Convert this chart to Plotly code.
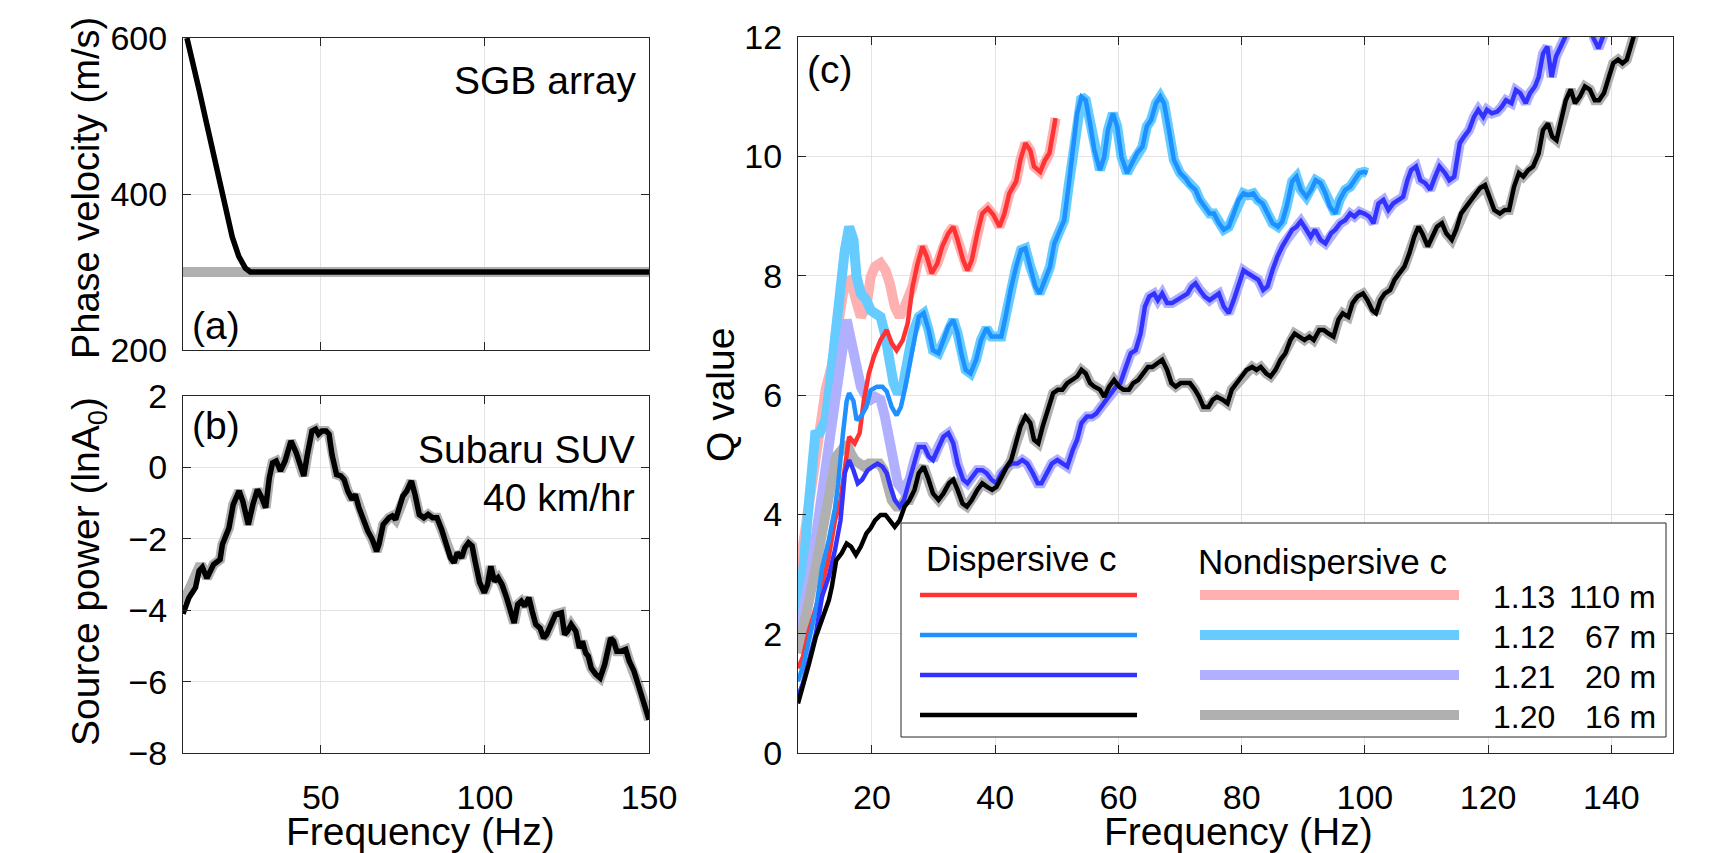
import plotly.graph_objects as go

W, H = 1712, 853
FONT = "Liberation Sans, Arial, Helvetica, sans-serif"

# ---------------- Panel (a): phase velocity ----------------
VEL_DISP_F = [9.2, 11, 13, 15, 17, 19, 21, 23, 25, 27, 28.5, 150]
VEL_DISP_C = [600, 571, 532, 494, 455, 416, 380, 345, 320, 305, 300, 300]
VEL_NOND_F = [8, 150]
VEL_NOND_C = [300, 300]

# ---------------- Panel (b): source power ----------------
SRC_F = [8, 9.8, 11.8, 12.9, 13.9, 15.3, 17.3, 19.3, 20, 22, 23.3, 25.1, 26.2, 27.9, 29.3, 30.7, 32, 33.2,
         34.3, 35.3, 36.4, 37.7, 39.1, 40.9, 42.5, 43.9, 44.8, 45.9, 47.3, 48.4, 49.3, 50.3, 51.6, 52.5,
         53.4, 54.8, 56.1, 57.1, 58.2, 59.5, 60.5, 61.6, 62.9, 64.3, 65.7, 67, 67.7, 69, 70.8, 71.8, 72.8,
         73.9, 75, 76.2, 77.6, 78.7, 80, 81.4, 82.7, 84.1, 85.4, 86.8, 88.1, 89.5, 90.6, 91.6, 92.9, 93.9,
         95, 96.1, 97, 98.4, 99.8, 100.8, 101.8, 102.9, 104, 105.2, 106.6, 108, 108.9, 110, 111.1, 112.1,
         113.4, 114.4, 115.5, 116.8, 117.9, 118.8, 120.2, 121.5, 123.3, 124.3, 125.2, 126.3, 127.7, 128.8,
         129.7, 130.7, 131.5, 132.4, 133.8, 135.1, 136.5, 138.3, 139.2, 140.2, 141.5, 142.9, 144, 145.4,
         146.7, 148.1, 149, 150]
SRC_DISP = [-4.1, -3.65, -3.37, -2.9, -2.8, -3.1, -2.72, -2.58, -2.16, -1.7, -1.04, -0.66, -0.94, -1.6,
            -1.04, -0.62, -0.85, -1.13, -0.29, 0.13, 0.18, -0.1, 0.18, 0.74, 0.41, -0.01, -0.24, 0.36, 1.02,
            1.07, 0.93, 1.02, 1.02, 0.93, 0.36, -0.2, -0.24, -0.34, -0.66, -0.9, -0.76, -1.13, -1.5, -1.78,
            -2.02, -2.35, -2.16, -1.6, -1.41, -1.36, -1.46, -1.13, -0.8, -0.66, -0.38, -0.76, -1.32, -1.41,
            -1.32, -1.41, -1.41, -1.74, -2.07, -2.53, -2.67, -2.39, -2.53, -2.25, -2.11, -2.2, -2.63, -3.23,
            -3.51, -3.28, -2.77, -3.19, -3.09, -3.28, -3.65, -4.17, -4.36, -3.84, -3.75, -3.89, -3.65, -4.03,
            -4.4, -4.5, -4.78, -4.68, -4.4, -4.12, -4.07, -4.68, -4.59, -4.4, -4.59, -5.06, -4.87, -5.2, -5.29,
            -5.62, -5.8, -5.9, -5.52, -4.78, -4.87, -5.15, -5.15, -5.1, -5.43, -5.7, -6.08, -6.46, -6.74, -7.07]
SRC_NOND_LOW_F = [8, 9.5, 11, 12.9]
SRC_NOND_LOW = [-3.8, -3.45, -3.1, -2.8]

# ---------------- Panel (c): Q values ----------------
RED_F = [8, 8.8, 9.8, 10.9, 11.9, 13, 14, 14.9, 15.6, 16.3, 17.2, 18, 18.7, 19.5, 20.3, 21.4, 22.4, 23.2,
         24, 25, 25.8, 26.6, 27.4, 28.2, 28.9, 29.7, 30.6, 31.4, 32.4, 33.2, 33.9, 34.8, 35.5, 36.2, 37.1,
         37.9, 38.8, 39.7, 40.7, 41.5, 42.3, 43.4, 44.1, 44.9, 45.7, 46.3, 47.3, 48.1, 48.8, 49.4, 49.8]
RED_Q = [1.42, 1.61, 2.06, 2.45, 2.79, 3.29, 3.9, 4.24, 4.8, 5.3, 5.19, 5.36, 5.92, 6.36, 6.64, 6.92, 7.09,
         6.87, 6.75, 6.92, 7.2, 7.82, 8.2, 8.49, 8.32, 8.04, 8.2, 8.49, 8.71, 8.82, 8.6, 8.26, 8.09, 8.26,
         8.71, 9.04, 9.13, 9.02, 8.82, 9.04, 9.38, 9.58, 9.94, 10.22, 10.1, 9.83, 9.74, 9.94, 10.05, 10.39,
         10.64]
PINK_LOW_F = [8, 8.8, 9.5, 10.5, 11.5, 12.5, 13.5, 14.5, 15.3, 16, 16.6, 17.4, 18.2, 19.1, 19.8, 20.5,
              21.4, 22.2, 22.9, 23.7, 24.5, 25.3]
PINK_LOW_Q = [2.9, 3.5, 4.0, 4.8, 5.6, 6.1, 6.5, 7.2, 7.7, 7.9, 7.93, 7.59, 7.31, 7.48, 7.98, 8.15, 8.21,
              8.09, 7.87, 7.48, 7.31, 7.48]

DODGER_F = [8, 8.8, 9.8, 10.9, 11.9, 13, 14, 14.5, 15.3, 15.9, 16.3, 17, 17.5, 18.2, 19.1, 19.8, 20.8,
            21.7, 22.4, 23.2, 24, 24.7, 25.3, 26.1, 26.9, 27.6, 28.4, 29.2, 29.9, 30.8, 31.6, 32.4, 33.2,
            33.9, 34.5, 35.2, 36, 36.9, 37.7, 38.6, 39.4, 40.2, 41, 41.8, 42.5, 43.4, 44.2, 44.9, 45.7, 46.5,
            47.2, 48.1, 48.9, 49.6, 50.5, 51.2, 51.9, 52.6, 53.3, 54, 54.7, 55.4, 56.1, 57, 57.7, 58.3, 59.1,
            59.8, 60.5, 61.4, 62.2, 63, 63.9, 64.6, 65.3, 66.1, 66.8, 67.4, 68.2, 69, 70, 70.9, 71.6, 72.5,
            73.2, 74, 74.8, 75.5, 76.3, 77.1, 77.9, 78.7, 79.5, 80.3, 81, 81.9, 82.6, 83.4, 84.2, 85, 85.9,
            86.6, 87.3, 88.2, 88.9, 89.6, 90.5, 91.3, 92, 92.8, 93.6, 94.3, 95.2, 95.9, 96.8, 97.6, 98.3,
            99.1, 99.9, 100.4]
DODGER_Q = [1.2, 1.45, 1.9, 2.4, 3.1, 3.57, 4.1, 4.5, 5.36, 5.9, 6.03, 5.9, 5.58, 5.64, 5.8, 6.08, 6.14,
            6.14, 6.06, 5.8, 5.66, 5.8, 6.08, 6.53, 6.98, 7.31, 7.37, 7.09, 6.75, 6.7, 6.92, 7.15, 7.26, 7.03,
            6.7, 6.42, 6.36, 6.59, 6.92, 7.12, 6.98, 6.98, 6.98, 7.37, 7.76, 8.15, 8.43, 8.46, 8.15, 7.82,
            7.7, 7.93, 8.15, 8.54, 8.77, 8.93, 9.49, 10.05, 10.72, 11.0, 10.94, 10.55, 10.1, 9.77, 9.99,
            10.44, 10.72, 10.5, 9.99, 9.72, 9.88, 10.05, 10.16, 10.5, 10.61, 10.89, 11.0, 10.89, 10.44, 9.94,
            9.72, 9.63, 9.52, 9.44, 9.27, 9.16, 9.04, 9.04, 8.88, 8.77, 8.82, 9.04, 9.27, 9.38, 9.35, 9.38,
            9.27, 9.21, 9.04, 8.88, 8.82, 8.91, 9.16, 9.58, 9.66, 9.44, 9.32, 9.44, 9.6, 9.55, 9.38, 9.16,
            9.04, 9.27, 9.44, 9.49, 9.6, 9.72, 9.74, 9.72]
SKY_LOW_F = [8, 8.8, 9.6, 10.3, 10.8, 11.5, 12.5, 13.2, 14, 14.9, 15.6, 16.3, 17, 17.5, 18.2, 19.1, 19.8,
             20.5, 21.4, 22.1, 22.7, 23.5, 24.2, 25, 25.8, 26.6]
SKY_LOW_Q = [2.34, 3.0, 4.0, 5.0, 5.34, 5.36, 5.6, 6.2, 7.03, 7.93, 8.43, 8.82, 8.6, 7.98, 7.7, 7.59, 7.42,
             7.37, 7.31, 7.03, 6.59, 6.2, 6.03, 6.14, 6.59, 7.03]

BLUE_F = [8, 8.8, 9.8, 10.9, 11.9, 13, 14, 14.9, 15.6, 16.3, 17, 17.7, 18.4, 19.3, 20.1, 20.9, 21.7, 22.4,
          23, 23.7, 24.5, 25.2, 26.1, 26.9, 27.6, 28.5, 29.2, 29.9, 30.8, 31.6, 32.4, 33.2, 33.9, 34.8, 35.5,
          36.2, 37.1, 37.9, 38.6, 39.4, 40.2, 41, 41.9, 42.7, 43.6, 44.4, 45.2, 46.1, 46.9, 47.5, 48.4, 49.2,
          50.1, 50.9, 51.7, 52.6, 53.3, 54, 54.9, 55.7, 56.4, 57.2, 58, 58.8, 59.6, 60.3, 61.2, 62, 62.8, 63.6,
          64.3, 65, 65.8, 66.4, 67.1, 67.9, 68.7, 69.5, 70.4, 71.2, 71.9, 72.5, 73.2, 74, 74.8, 75.5, 76.3,
          77.1, 77.9, 78.7, 79.5, 80.3, 81, 81.9, 82.7, 83.5, 84.2, 85, 85.8, 86.6, 87.3, 88.2, 88.9, 89.6,
          90.5, 91.2, 91.9, 92.8, 93.6, 94.5, 95.2, 96, 96.8, 97.6, 98.3, 99.1, 99.9, 100.7, 101.4, 102.2,
          103, 103.8, 104.6, 105.4, 106.2, 106.9, 107.5, 108.3, 109, 109.8, 110.6, 111.4, 112.1, 113, 113.7,
          114.5, 115.4, 116.1, 116.9, 117.7, 118.4, 119.2, 119.8, 120.6, 121.5, 122.2, 122.9, 123.8, 124.5,
          125.2, 126.1, 126.8, 127.6, 128.2, 128.9, 129.6, 130.3, 131, 131.8, 132.5, 133.3, 134.5, 136,
          137.1, 137.9, 138.6, 139.5, 140.5]
BLUE_Q = [0.94, 1.17, 1.56, 2.0, 2.62, 2.96, 3.4, 3.9, 4.69, 4.91, 4.74, 4.52, 4.58, 4.74, 4.8, 4.85, 4.8,
          4.69, 4.46, 4.24, 4.13, 4.24, 4.58, 4.91, 5.13, 5.13, 4.97, 4.91, 5.13, 5.3, 5.36, 5.19, 4.85, 4.58,
          4.52, 4.63, 4.74, 4.74, 4.69, 4.58, 4.52, 4.69, 4.8, 4.85, 4.85, 4.91, 4.85, 4.69, 4.52, 4.52, 4.69,
          4.85, 4.91, 4.85, 4.8, 5.08, 5.25, 5.53, 5.64, 5.64, 5.69, 5.8, 5.92, 6.03, 6.14, 6.2, 6.47, 6.7,
          6.75, 7.03, 7.48, 7.65, 7.7, 7.59, 7.7, 7.54, 7.54, 7.59, 7.65, 7.7, 7.82, 7.87, 7.76, 7.65, 7.59,
          7.65, 7.7, 7.48, 7.37, 7.59, 7.87, 8.09, 8.04, 7.98, 7.93, 7.76, 7.82, 8.09, 8.32, 8.49, 8.6, 8.77,
          8.82, 8.91, 8.77, 8.65, 8.77, 8.6, 8.54, 8.71, 8.77, 8.88, 8.93, 9.04, 8.99, 9.07, 9.04, 8.99, 8.88,
          9.21, 9.27, 9.1, 9.21, 9.27, 9.32, 9.6, 9.77, 9.83, 9.6, 9.55, 9.44, 9.66, 9.83, 9.72, 9.6, 9.66,
          10.22, 10.33, 10.44, 10.66, 10.78, 10.66, 10.78, 10.72, 10.75, 10.83, 10.94, 10.89, 11.11, 11.06,
          10.89, 11.06, 11.17, 11.33, 11.72, 11.84, 11.33, 11.67, 11.84, 12.0, 12.4, 12.6, 12.3, 11.98, 11.81,
          12.0, 12.4, 12.6]
LAV_LOW_F = [8, 9, 10, 11, 12, 13, 14, 15, 15.9, 16.6, 17.4, 18.2, 19.1, 19.8, 20.5, 21.4, 22.1, 22.7,
             23.5, 24.2, 25, 25.8]
LAV_LOW_Q = [1.89, 2.4, 3.0, 3.7, 4.4, 5.1, 5.9, 6.6, 7.26, 6.92, 6.47, 6.14, 5.97, 5.92, 5.97, 5.92, 5.64,
             5.25, 4.8, 4.52, 4.41, 4.58]

BLACK_F = [8, 8.8, 9.8, 10.9, 11.9, 13, 13.5, 14.2, 15.1, 15.9, 16.6, 17.4, 18.2, 19.1, 19.8, 20.5, 21.4,
           22.2, 22.9, 23.7, 24.5, 25.3, 26.1, 26.9, 27.6, 28.4, 29.2, 29.9, 30.8, 31.6, 32.5, 33.2, 33.9,
           34.7, 35.4, 36.2, 37.1, 37.9, 38.7, 39.5, 40.2, 41, 41.9, 42.6, 43.4, 44.1, 44.9, 45.7, 46.3, 47,
           47.7, 48.6, 49.4, 50.2, 50.9, 51.7, 52.6, 53.3, 54, 54.7, 55.4, 56.1, 57, 57.7, 58.5, 59.3, 60.1,
           60.8, 61.7, 62.4, 63.2, 64.1, 64.8, 65.5, 66.4, 67.1, 67.9, 68.6, 69.3, 70.1, 70.8, 71.6, 72.4,
           73.1, 73.8, 74.6, 75.3, 76, 76.9, 77.7, 78.4, 79.3, 80, 80.8, 81.7, 82.4, 83.1, 84, 84.7, 85.5,
           86.3, 87.1, 87.9, 88.6, 89.4, 90.2, 91, 91.7, 92.6, 93.3, 94.1, 94.9, 95.7, 96.4, 97.3, 98, 98.8,
           99.7, 100.4, 101.2, 101.8, 102.5, 103.2, 104.1, 104.8, 105.5, 106.4, 107.2, 108, 108.7, 109.3,
           110.2, 110.9, 111.7, 112.5, 113.2, 114.1, 114.8, 115.6, 116.5, 117.2, 118, 118.7, 119.5, 120.2,
           121, 121.9, 122.7, 123.4, 124.2, 125, 125.7, 126.5, 127.3, 128.2, 128.9, 129.7, 130.4, 131.1,
           131.8, 132.6, 133.4, 134.1, 134.9, 135.7, 136.5, 137.3, 138, 138.8, 139.6, 140.3, 141.1, 141.8,
           142.5, 143, 143.6, 144.3]
BLACK_Q = [0.83, 1.11, 1.5, 1.95, 2.23, 2.56, 2.79, 3.23, 3.35, 3.51, 3.46, 3.32, 3.46, 3.68, 3.77, 3.9,
           3.99, 3.99, 3.9, 3.79, 3.9, 4.13, 4.24, 4.41, 4.69, 4.8, 4.58, 4.35, 4.24, 4.35, 4.52, 4.58, 4.41,
           4.18, 4.13, 4.24, 4.41, 4.52, 4.46, 4.41, 4.46, 4.63, 4.8, 4.91, 5.19, 5.47, 5.64, 5.53, 5.25, 5.19,
           5.47, 5.8, 6.03, 6.09, 6.09, 6.2, 6.25, 6.31, 6.42, 6.36, 6.2, 6.14, 6.09, 5.97, 6.14, 6.25, 6.14,
           6.09, 6.09, 6.2, 6.25, 6.36, 6.47, 6.47, 6.53, 6.59, 6.42, 6.2, 6.14, 6.2, 6.2, 6.2, 6.09, 5.97,
           5.8, 5.8, 5.92, 5.97, 5.92, 5.86, 6.09, 6.2, 6.31, 6.42, 6.47, 6.42, 6.47, 6.36, 6.31, 6.42, 6.59,
           6.7, 6.92, 7.03, 6.98, 6.92, 6.98, 6.92, 7.09, 7.09, 7.03, 6.98, 7.26, 7.37, 7.31, 7.54, 7.65, 7.7,
           7.59, 7.42, 7.37, 7.59, 7.7, 7.76, 7.93, 8.04, 8.15, 8.37, 8.65, 8.82, 8.71, 8.49, 8.65, 8.82, 8.88,
           8.71, 8.6, 8.77, 9.04, 9.16, 9.27, 9.38, 9.47, 9.52, 9.32, 9.1, 9.04, 9.1, 9.1, 9.49, 9.72, 9.66,
           9.77, 9.83, 10.05, 10.44, 10.55, 10.33, 10.27, 10.55, 10.94, 11.12, 10.89, 11.0, 11.17, 11.12,
           10.94, 10.94, 11.06, 11.33, 11.56, 11.62, 11.56, 11.62, 11.78, 12.0, 12.4]
GRAY_LOW_F = [8, 8.8, 9.8, 10.9, 11.9, 13, 13.5, 14.2, 15.1, 15.9, 16.6, 17.2, 18, 18.7, 19.5, 20.3, 21.2,
              21.9, 22.6, 23.2, 24, 24.7, 25.3]
GRAY_LOW_Q = [1.67, 2.0, 2.56, 3.12, 3.68, 4.07, 4.58, 4.97, 5.08, 5.19, 5.02, 4.91, 4.85, 4.8, 4.85, 4.83,
              4.85, 4.74, 4.52, 4.24, 4.13, 4.13, 4.24]

LEGEND_VALUES = ["1.13", "1.12", "1.21", "1.20"]
LEGEND_DIST = ["110 m", "67 m", "20 m", "16 m"]
DISP_COLORS = ["#ff3333", "#1e90ff", "#3333ff", "#000000"]
NOND_COLORS = ["#ffb0b0", "#66ccff", "#b0b0ff", "#b0b0b0"]


def join(low_f, low_q, f, q, f0):
    idx = next(i for i, v in enumerate(f) if v >= f0)
    return list(low_f) + list(f[idx:]), list(low_q) + list(q[idx:])


pink_f, pink_q = join(PINK_LOW_F, PINK_LOW_Q, RED_F, RED_Q, 26.6)
sky_f, sky_q = join(SKY_LOW_F, SKY_LOW_Q, DODGER_F, DODGER_Q, 27.6)
lav_f, lav_q = join(LAV_LOW_F, LAV_LOW_Q, BLUE_F, BLUE_Q, 26.1)
gray_f, gray_q = join(GRAY_LOW_F, GRAY_LOW_Q, BLACK_F, BLACK_Q, 26.1)
src_nd_f, src_nd = join(SRC_NOND_LOW_F, SRC_NOND_LOW, SRC_F, SRC_DISP, 13.9)

fig = go.Figure()

# panel (a)
fig.add_trace(go.Scatter(x=VEL_NOND_F, y=VEL_NOND_C, mode="lines", line=dict(color="#b0b0b0", width=10),
                         xaxis="x", yaxis="y"))
fig.add_trace(go.Scatter(x=VEL_DISP_F, y=VEL_DISP_C, mode="lines", line=dict(color="#000000", width=5.5),
                         xaxis="x", yaxis="y"))
# panel (b)
fig.add_trace(go.Scatter(x=src_nd_f, y=src_nd, mode="lines", line=dict(color="#b0b0b0", width=10),
                         xaxis="x2", yaxis="y2"))
fig.add_trace(go.Scatter(x=SRC_F, y=SRC_DISP, mode="lines", line=dict(color="#000000", width=5.5),
                         xaxis="x2", yaxis="y2"))
# panel (c)
nond = [(pink_f, pink_q), (sky_f, sky_q), (lav_f, lav_q), (gray_f, gray_q)]
disp = [(RED_F, RED_Q), (DODGER_F, DODGER_Q), (BLUE_F, BLUE_Q), (BLACK_F, BLACK_Q)]
for (fx, qy), col in zip(nond, NOND_COLORS):
    fig.add_trace(go.Scatter(x=fx, y=qy, mode="lines", line=dict(color=col, width=10),
                             xaxis="x3", yaxis="y3"))
for (fx, qy), col in zip(disp, DISP_COLORS):
    fig.add_trace(go.Scatter(x=fx, y=qy, mode="lines", line=dict(color=col, width=4.5),
                             xaxis="x3", yaxis="y3"))


def px_x(x):
    return x / W


def px_y(y):
    return 1 - y / H


AX = dict(showline=True, linecolor="#262626", linewidth=1, mirror="ticks", ticks="inside", ticklen=8,
          tickcolor="#262626", showgrid=True, gridcolor="#e3e3e3", gridwidth=1, zeroline=False,
          automargin=False, tickfont=dict(family=FONT, size=34, color="#000000"))

fig.update_layout(
    template="none",
    width=W, height=H, margin=dict(l=0, r=0, t=0, b=0, pad=0), showlegend=False,
    paper_bgcolor="white", plot_bgcolor="white",
    xaxis=dict(AX, domain=[px_x(183), px_x(649)], range=[8, 150], tickvals=[50, 100, 150],
               showticklabels=False, anchor="y"),
    yaxis=dict(AX, domain=[px_y(350), px_y(38)], range=[200, 600], tickvals=[200, 400, 600],
               anchor="x", ticklabelstandoff=8),
    xaxis2=dict(AX, domain=[px_x(183), px_x(649)], range=[8, 150], tickvals=[50, 100, 150],
                anchor="y2", ticklabelstandoff=14),
    yaxis2=dict(AX, domain=[px_y(753), px_y(396)], range=[-8, 2], tickvals=[-8, -6, -4, -2, 0, 2],
                anchor="x2", ticklabelstandoff=8),
    xaxis3=dict(AX, domain=[px_x(798), px_x(1673)], range=[8, 150],
                tickvals=[20, 40, 60, 80, 100, 120, 140], anchor="y3", ticklabelstandoff=14),
    yaxis3=dict(AX, domain=[px_y(753), px_y(37)], range=[0, 12], tickvals=[0, 2, 4, 6, 8, 10, 12],
                anchor="x3", ticklabelstandoff=8),
)

ann = []


def text(s, x, y, size, xanchor="left", angle=0):
    ann.append(dict(text=s, x=px_x(x), y=px_y(y), xref="paper", yref="paper", showarrow=False,
                    xanchor=xanchor, yanchor="middle", textangle=angle,
                    font=dict(family=FONT, size=size, color="#000000")))


# axis titles
text("Phase velocity (m/s)", 86, 188, 38, "center", -90)
text("Source power (lnA<sub>0</sub>)", 88, 572, 39, "center", -90)
text("Frequency (Hz)", 420, 831, 39, "center")
text("Q value", 720, 395, 39, "center", -90)
text("Frequency (Hz)", 1238, 831, 39, "center")
# panel labels
text("SGB array", 639, 80, 39, "right")
text("(a)", 190, 325, 39, "left")
text("(b)", 190, 425, 39, "left")
text("Subaru SUV", 637, 450, 39, "right")
text("40 km/hr", 637, 497, 39, "right")
text("(c)", 805, 70, 39, "left")
# legend text
text("Dispersive c", 924, 558, 35, "left")
text("Nondispersive c", 1196, 561, 35, "left")
ROW_Y = [597, 637, 677, 717]
LINE_Y = [595, 635, 675, 715]
for i in range(4):
    text(LEGEND_VALUES[i], 1491, ROW_Y[i], 32, "left")
    text(LEGEND_DIST[i], 1658, ROW_Y[i], 32, "right")

shapes = [dict(type="rect", xref="paper", yref="paper", x0=px_x(901), x1=px_x(1666), y0=px_y(737),
               y1=px_y(523), line=dict(color="#262626", width=1), fillcolor="white", layer="above")]
for i in range(4):
    shapes.append(dict(type="line", xref="paper", yref="paper", x0=px_x(1200), x1=px_x(1459),
                       y0=px_y(LINE_Y[i]), y1=px_y(LINE_Y[i]), line=dict(color=NOND_COLORS[i], width=10),
                       layer="above"))
    shapes.append(dict(type="line", xref="paper", yref="paper", x0=px_x(920), x1=px_x(1137),
                       y0=px_y(LINE_Y[i]), y1=px_y(LINE_Y[i]), line=dict(color=DISP_COLORS[i], width=4.5),
                       layer="above"))

fig.update_layout(annotations=ann, shapes=shapes)
fig.write_html("out.html", config={"displayModeBar": False},
               post_script="document.body.style.margin='0';document.body.style.overflow='hidden';")
